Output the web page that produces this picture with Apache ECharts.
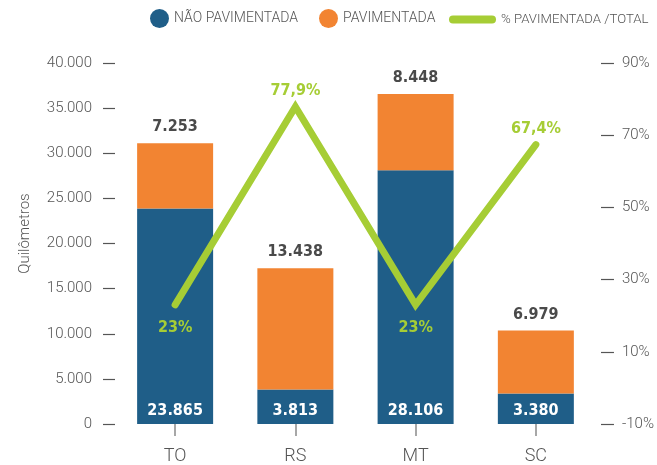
<!DOCTYPE html>
<html>
<head>
<meta charset="utf-8">
<script src="https://cdn.jsdelivr.net/npm/echarts@6/dist/echarts.min.js"></script>
<style>
  html, body { margin: 0; padding: 0; background: #fff; }
  #chart { width: 657px; height: 465px; }
</style>
</head>
<body>
<div id="chart"></div>
<script>
// Estados
const categories = ['TO', 'RS', 'MT', 'SC'];
// Quilômetros não pavimentados
const naoPavimentada = [23865, 3813, 28106, 3380];
// Quilômetros pavimentados
const pavimentada = [7253, 13438, 8448, 6979];
// % pavimentada / total
const pctPavimentada = [23, 77.9, 23, 67.4];
// Posição do rótulo de cada ponto da linha
const pctLabelPos = ['bottom', 'top', 'bottom', 'top'];

const BLUE = '#1f5e88';
const ORANGE = '#f28432';
const GREEN = '#a6cd35';
const AXIS_TEXT = '#555555';
const LABEL_FONT = '"DejaVu Sans Condensed", "DejaVu Sans", sans-serif';
const AXIS_FONT = 'Roboto, "Open Sans", sans-serif';

const fmtThousands = n => String(n).replace(/\B(?=(\d{3})+(?!\d))/g, '.');
const fmtPct = n => String(n).replace('.', ',') + '%';

const chart = echarts.init(document.getElementById('chart'), null, { renderer: 'canvas' });

const legendText = { color: AXIS_TEXT, fontFamily: AXIS_FONT, fontWeight: 300, fontSize: 14 };

chart.setOption({
  animation: false,
  backgroundColor: '#ffffff',
  legend: [
    {
      left: 150, top: 9, padding: 0, icon: 'circle', itemWidth: 19, itemHeight: 19,
      data: ['NÃO PAVIMENTADA'], textStyle: legendText, selectedMode: false
    },
    {
      left: 319, top: 9, padding: 0, icon: 'circle', itemWidth: 19, itemHeight: 19,
      data: ['PAVIMENTADA'], textStyle: legendText, selectedMode: false
    },
    {
      left: 449, top: 13, padding: 0, itemWidth: 47, itemHeight: 8,
      data: [{
        name: '% PAVIMENTADA /TOTAL',
        icon: 'path://M4,0 H43 A4,4 0 0 1 43,8 H4 A4,4 0 0 1 4,0 Z'
      }],
      textStyle: Object.assign({}, legendText, { fontSize: 13.2 }),
      selectedMode: false
    }
  ],
  grid: { left: 115, right: 57, top: 63, bottom: 40 },
  xAxis: {
    type: 'category',
    data: categories,
    axisLine: { show: false },
    axisTick: { show: true, alignWithLabel: true, length: 12, lineStyle: { color: '#8a8a8a', width: 1.5 } },
    axisLabel: { color: AXIS_TEXT, fontFamily: AXIS_FONT, fontWeight: 300, fontSize: 18, margin: 23 }
  },
  yAxis: [
    {
      type: 'value',
      min: 0, max: 40000, interval: 5000,
      name: 'Quilômetros',
      nameLocation: 'middle',
      nameGap: 82,
      nameTextStyle: { color: AXIS_TEXT, fontFamily: AXIS_FONT, fontWeight: 300, fontSize: 15, padding: [0, 0, 0, 20] },
      splitLine: { show: false },
      axisLine: { show: false },
      axisTick: { show: true, length: 12, lineStyle: { color: '#555', width: 1.2 } },
      axisLabel: { color: AXIS_TEXT, fontFamily: AXIS_FONT, fontWeight: 300, fontSize: 15, margin: 23, formatter: fmtThousands }
    },
    {
      type: 'value',
      position: 'right',
      offset: 18,
      min: -10, max: 90, interval: 20,
      splitLine: { show: false },
      axisLine: { show: false },
      axisTick: { show: true, inside: true, length: 13, lineStyle: { color: '#555', width: 1.2 } },
      axisLabel: { color: AXIS_TEXT, fontFamily: AXIS_FONT, fontWeight: 300, fontSize: 15, margin: 8, formatter: v => v + '%' }
    }
  ],
  series: [
    {
      name: 'NÃO PAVIMENTADA',
      type: 'bar',
      stack: 'km',
      barWidth: 76,
      data: naoPavimentada,
      itemStyle: { color: BLUE },
      label: {
        show: true, position: 'insideBottom', distance: 5,
        color: '#ffffff', fontFamily: LABEL_FONT, fontWeight: 'bold', fontSize: 16,
        formatter: p => fmtThousands(p.value)
      }
    },
    {
      name: 'PAVIMENTADA',
      type: 'bar',
      stack: 'km',
      barWidth: 76,
      data: pavimentada,
      itemStyle: { color: ORANGE },
      label: {
        show: true, position: 'top', distance: 8,
        color: '#4a4a4a', fontFamily: LABEL_FONT, fontWeight: 'bold', fontSize: 16,
        formatter: p => fmtThousands(p.value)
      }
    },
    {
      name: '% PAVIMENTADA /TOTAL',
      type: 'line',
      yAxisIndex: 1,
      z: 5,
      symbol: 'circle',
      symbolSize: 1,
      itemStyle: { color: GREEN },
      lineStyle: { color: GREEN, width: 7, cap: 'round', join: 'miter' },
      data: pctPavimentada.map((v, i) => ({
        value: v,
        label: { position: pctLabelPos[i], distance: pctLabelPos[i] === 'top' ? 7 : 14 }
      })),
      label: {
        show: true,
        color: GREEN, fontFamily: LABEL_FONT, fontWeight: 'bold', fontSize: 16,
        formatter: p => fmtPct(p.value)
      }
    }
  ]
});
</script>
</body>
</html>
